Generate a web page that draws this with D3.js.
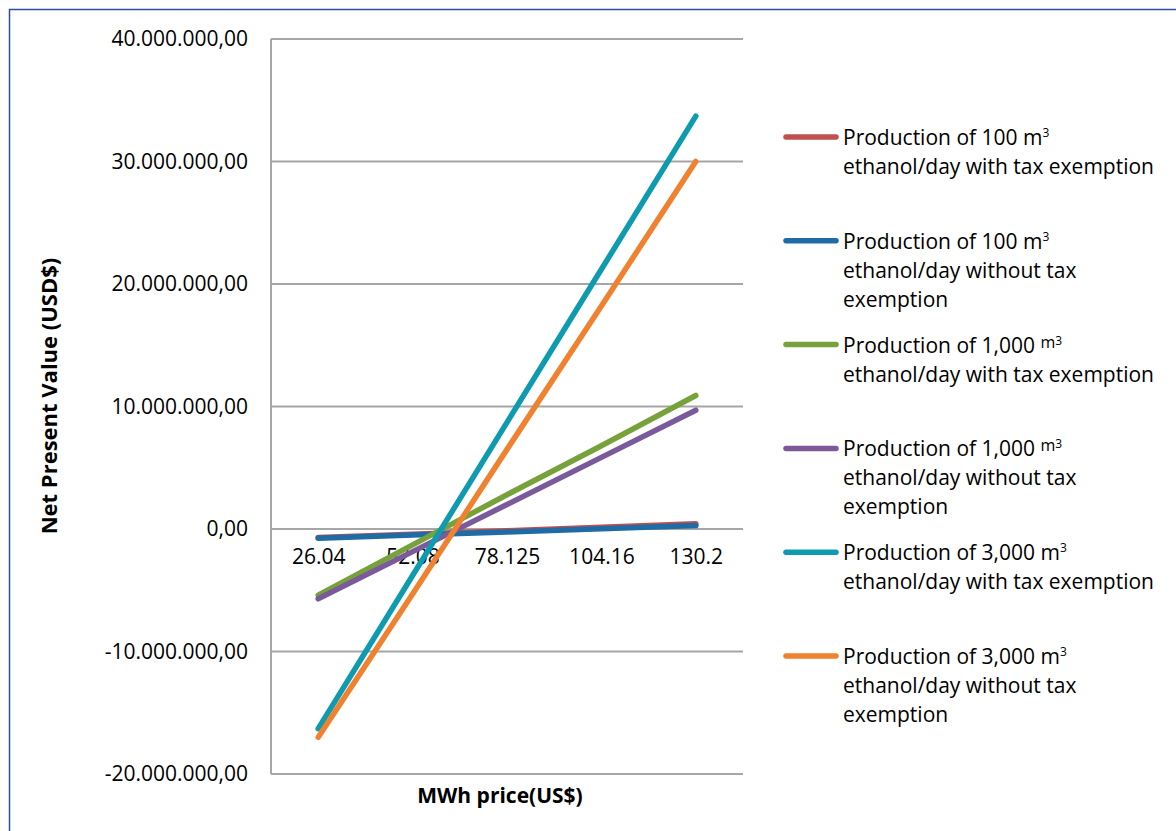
<!DOCTYPE html>
<html>
<head>
<meta charset="utf-8">
<script src="https://cdn.jsdelivr.net/npm/d3@7"></script>
<style>
  html, body { margin: 0; padding: 0; background: #fff; }
  svg { display: block; }
  text { font-family: "Open Sans", Lato, sans-serif; fill: #000; }
</style>
</head>
<body>
<svg id="chart" width="1176" height="831"></svg>
<script>
// MWh price categories (US$)
const categories = ["26.04", "52.08", "78.125", "104.16", "130.2"];

// Net present value (USD$) for each production scenario
const npv100With      = [-700000,   -420000,  -140000,   140000,   420000];
const npv100Without   = [-750000,   -490000,  -240000,    20000,   280000];
const npv1000With     = [-5400000, -1300000,  2800000,  6800000, 10900000];
const npv1000Without  = [-5700000, -1850000,  2000000,  5850000,  9700000];
const npv3000With     = [-16300000, -3800000, 8700000, 21200000, 33700000];
const npv3000Without  = [-17000000, -5300000, 6500000, 18200000, 30000000];

// Value axis ticks
const yTicks = [-20000000, -10000000, 0, 10000000, 20000000, 30000000, 40000000];

const seriesValues = [npv100With, npv100Without, npv1000With, npv1000Without, npv3000With, npv3000Without];
const colors = ["#C0504D", "#1F6BA6", "#77A23B", "#7B5A9C", "#0E9AAF", "#F0822F"];

// Legend text broken into lines; the first line ends with "m" + superscript 3
const legendLines = [
  { amount: "100",   smallUnit: false, rest: ["ethanol/day with tax exemption"] },
  { amount: "100",   smallUnit: false, rest: ["ethanol/day without tax", "exemption"] },
  { amount: "1,000", smallUnit: true,  rest: ["ethanol/day with tax exemption"] },
  { amount: "1,000", smallUnit: true,  rest: ["ethanol/day without tax", "exemption"] },
  { amount: "3,000", smallUnit: false, rest: ["ethanol/day with tax exemption"] },
  { amount: "3,000", smallUnit: false, rest: ["ethanol/day without tax", "exemption"] }
];

const svg = d3.select("#chart");

// Outer frame (only the top and left edges fall inside the view)
svg.append("rect")
  .attr("x", 9.5).attr("y", 9.5)
  .attr("width", 1300).attr("height", 1000)
  .attr("fill", "none")
  .attr("stroke", "#2F4D9E")
  .attr("stroke-width", 1.5);

const plot = { left: 271, right: 743, top: 39, bottom: 774 };

const x = d3.scalePoint()
  .domain(categories)
  .range([plot.left, plot.right])
  .padding(0.5);

const y = d3.scaleLinear()
  .domain([-20000000, 40000000])
  .range([plot.bottom, plot.top]);

const locale = d3.formatLocale({ decimal: ",", thousands: ".", grouping: [3], currency: ["", ""], minus: "-" });
const fmt = locale.format(",.2f");

// Gridlines
svg.append("g")
  .selectAll("line")
  .data(yTicks)
  .join("line")
  .attr("x1", plot.left).attr("x2", plot.right)
  .attr("y1", d => y(d)).attr("y2", d => y(d))
  .attr("stroke", "#A6A6A6")
  .attr("stroke-width", 2);

// Value axis line
svg.append("line")
  .attr("x1", plot.left).attr("x2", plot.left)
  .attr("y1", plot.top).attr("y2", plot.bottom)
  .attr("stroke", "#A6A6A6")
  .attr("stroke-width", 2);

// Value axis labels
const yAxis = d3.axisLeft(y).tickValues(yTicks).tickFormat(fmt).tickSize(0).tickPadding(23);
const yg = svg.append("g").attr("transform", `translate(${plot.left},0)`).call(yAxis);
yg.select(".domain").remove();
yg.selectAll("text")
  .attr("font-family", "'Open Sans', sans-serif")
  .attr("font-size", 21)
  .attr("fill", "#000");

// Category labels sit just below the zero line
const xAxis = d3.axisBottom(x).tickSize(0).tickPadding(20);
const xg = svg.append("g").attr("transform", `translate(0,${y(0)})`).call(xAxis);
xg.select(".domain").remove();
xg.selectAll("text")
  .attr("font-family", "'Open Sans', sans-serif")
  .attr("font-size", 21)
  .attr("fill", "#000");

// Series lines
const line = d3.line()
  .x((d, i) => x(categories[i]))
  .y(d => y(d));

svg.append("g")
  .selectAll("path")
  .data(seriesValues)
  .join("path")
  .attr("d", d => line(d))
  .attr("fill", "none")
  .attr("stroke", (d, i) => colors[i])
  .attr("stroke-width", 5.5)
  .attr("stroke-linecap", "round")
  .attr("stroke-linejoin", "round");

// Axis titles
svg.append("text")
  .attr("transform", "translate(57,396) rotate(-90)")
  .attr("text-anchor", "middle")
  .attr("font-size", 22)
  .attr("font-weight", "bold")
  .text("Net Present Value (USD$)");

svg.append("text")
  .attr("x", 500).attr("y", 803)
  .attr("text-anchor", "middle")
  .attr("font-size", 21)
  .attr("font-weight", "bold")
  .text("MWh price(US$)");

// Legend
const legendTop = 137, legendStep = 103.8, lineGap = 29;
const lg = svg.append("g");
legendLines.forEach((entry, i) => {
  const cy = legendTop + i * legendStep;
  lg.append("line")
    .attr("x1", 786).attr("x2", 836)
    .attr("y1", cy).attr("y2", cy)
    .attr("stroke", colors[i])
    .attr("stroke-width", 5.5)
    .attr("stroke-linecap", "round");

  const t = lg.append("text")
    .attr("x", 843).attr("y", cy + 8)
    .attr("font-size", 21);
  t.append("tspan").text(`Production of ${entry.amount} `);
  if (entry.smallUnit) {
    t.append("tspan").attr("font-size", 16).attr("dy", -5).text("m");
    t.append("tspan").attr("font-size", 12).attr("dy", -3).text("3");
  } else {
    t.append("tspan").text("m");
    t.append("tspan").attr("font-size", 12).attr("dy", -8).text("3");
  }
  entry.rest.forEach((s, k) => {
    lg.append("text")
      .attr("x", 843).attr("y", cy + 8 + (k + 1) * lineGap)
      .attr("font-size", 21)
      .text(s);
  });
});
</script>
</body>
</html>
